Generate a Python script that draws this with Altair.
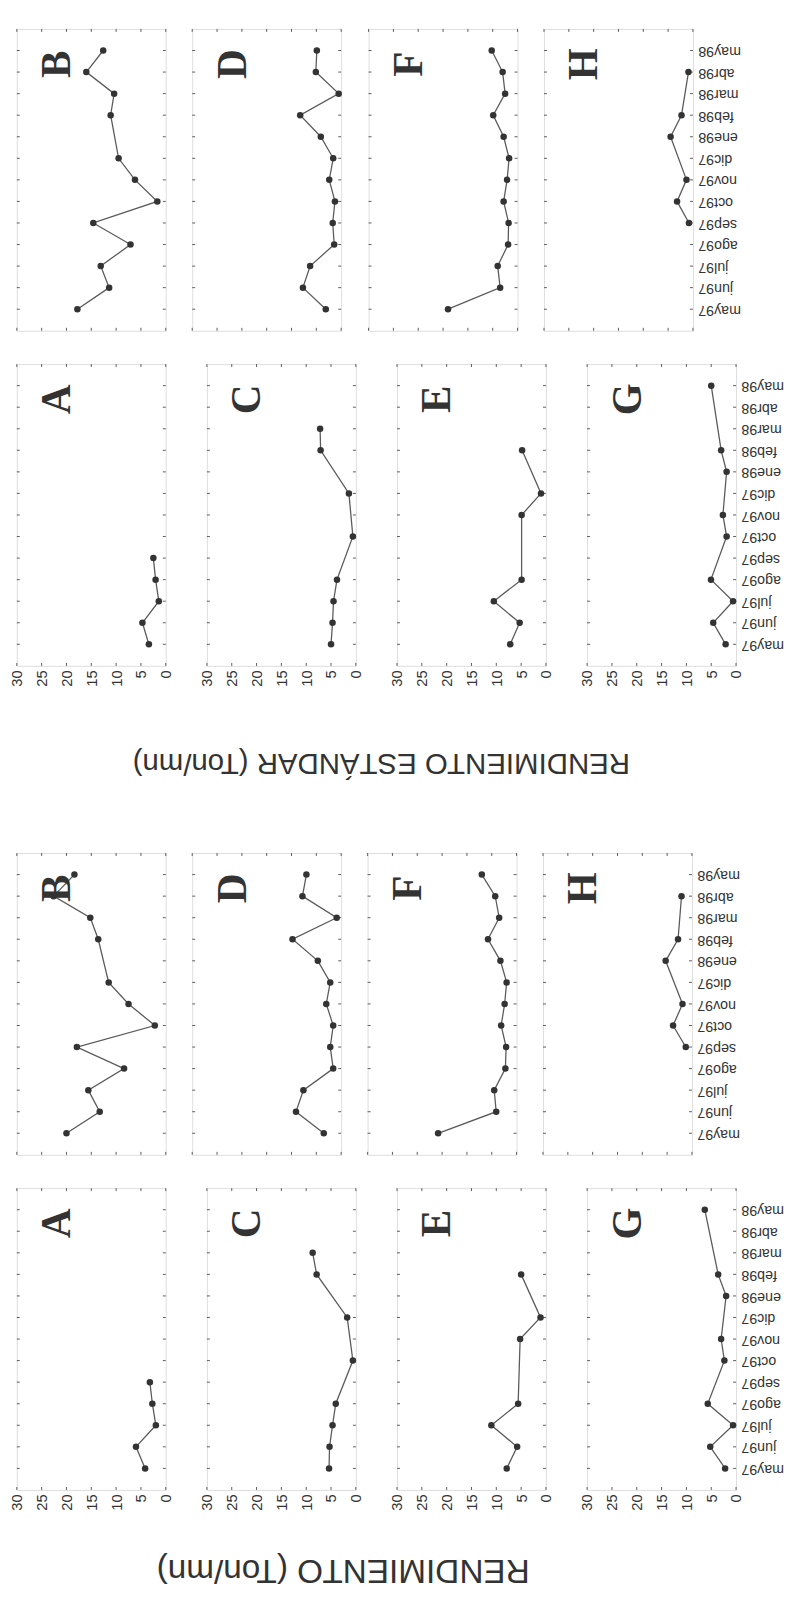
import altair as alt
import pandas as pd

# ---------------- data ----------------
months = ["may97", "jun97", "jul97", "ago97", "sep97", "oct97", "nov97",
          "dic97", "ene98", "feb98", "mar98", "abr98", "may98"]
value_ticks = [0, 5, 10, 15, 20, 25, 30]
letters_upper = ["B", "D", "F", "H"]
letters_lower = ["A", "C", "E", "G"]
title_std = "RENDIMIENTO ESTÁNDAR (Ton/mn)"
title_rend = "RENDIMIENTO (Ton/mn)"

N = None
# RENDIMIENTO ESTÁNDAR (Ton/mn)
std_A = [3.4, 4.7, 1.4, 2.05, 2.5, N, N, N, N, N, N, N, N]
std_B = [17.8, 11.4, 13.1, 7.1, 14.6, 1.7, 6.2, 9.5, N, 11.1, 10.4, 16.0, 12.6]
std_C = [5.0, 4.7, 4.5, 3.8, N, 0.6, N, 1.4, N, 7.1, 7.2, N, N]
std_D = [3.1, 7.7, 6.25, 1.4, 1.7, 1.25, 2.4, 1.6, 4.1, 8.25, 0.5, 5.1, 4.9]
std_E = [7.2, 5.3, 10.5, 4.9, N, N, 4.9, 1.0, N, 4.8, N, N, N]
std_F = [14.0, 3.5, 4.0, 1.9, 1.8, 2.8, 2.1, 1.7, 2.8, 4.9, 2.5, 3.0, 5.2]
std_G = [2.1, 4.6, 0.6, 5.05, N, 1.9, 2.65, N, 1.9, 3.0, N, N, 5.0]
std_H = [N, N, N, N, 0.8, 3.2, 1.3, N, 4.5, 2.3, N, 0.9, N]

# RENDIMIENTO (Ton/mn)
ren_A = [4.15, 6.0, 2.0, 2.7, 3.2, N, N, N, N, N, N, N, N]
ren_B = [20.0, 13.3, 15.6, 8.4, 17.9, 2.2, 7.5, 11.5, N, 13.6, 15.2, 22.6, 18.4]
ren_C = [5.4, 5.3, 4.7, 4.05, N, 0.6, N, 1.75, N, 7.9, 8.7, N, N]
ren_D = [3.5, 9.1, 7.6, 1.6, 2.2, 1.6, 3.0, 2.2, 4.7, 9.8, 0.9, 7.8, 7.0]
ren_E = [7.9, 5.8, 11.0, 5.6, N, N, 5.2, 1.1, N, 5.0, N, N, N]
ren_F = [15.8, 4.1, 4.5, 2.25, 2.1, 3.1, 2.4, 2.0, 3.25, 5.75, 3.5, 4.3, 7.0]
ren_G = [2.2, 5.2, 0.6, 5.7, N, 2.35, 3.0, N, 2.0, 3.6, N, N, 6.3]
ren_H = [N, N, N, N, 1.25, 3.8, 1.9, N, 5.3, 2.8, N, 2.1, N]

std = {"A": std_A, "B": std_B, "C": std_C, "D": std_D,
       "E": std_E, "F": std_F, "G": std_G, "H": std_H}
ren = {"A": ren_A, "B": ren_B, "C": ren_C, "D": ren_D,
       "E": ren_E, "F": ren_F, "G": ren_G, "H": ren_H}

# ---------------- style ----------------
INK = "#333333"
EDGE = "#5a5a5a"
W, H = 152, 308
SANS = "Liberation Sans"

xscale = alt.Scale(domain=[0, 30], reverse=True, nice=False, zero=False)
yscale = alt.Scale(type="point", domain=months[::-1], padding=1)

months_df = pd.DataFrame({"month": months})
ticks_df = pd.DataFrame({"t": value_ticks})


def x_axis(show):
    if not show:
        return None
    return alt.Axis(values=value_ticks, labelAngle=270, labelAlign="right",
                    labelBaseline="middle", ticks=False, domain=False,
                    grid=False, labelPadding=4, labelFontSize=15,
                    labelFont=SANS, labelColor=INK, title=None,
                    labelFlush=False, labelOverlap=False)


def y_axis(kind):
    if kind == "right":
        return alt.Axis(orient="right", labelAngle=180, labelAlign="right",
                        labelBaseline="middle", ticks=False, domain=False,
                        grid=False, labelPadding=5, labelFontSize=14.5,
                        labelFont=SANS, labelColor=INK, title=None,
                        labelOverlap=False)
    return None


def panel(values, letter, show_x, col):
    xa = x_axis(show_x)
    ya = y_axis("right" if col == 3 else None)
    rows = [{"idx": i, "month": m, "v": v}
            for i, (m, v) in enumerate(zip(months, values)) if v is not None]
    df = pd.DataFrame(rows)
    X = lambda f: alt.X(f, scale=xscale, axis=xa)
    Y = lambda f: alt.Y(f, scale=yscale, axis=ya, sort=None)

    left = alt.Chart(months_df).mark_rule(color=EDGE, strokeWidth=1).encode(
        y=Y("month:N"), x=alt.value(0), x2=alt.value(3))
    right = alt.Chart(months_df).mark_rule(color=EDGE, strokeWidth=1).encode(
        y=Y("month:N"), x=alt.value(W - 3), x2=alt.value(W))
    top = alt.Chart(ticks_df).mark_rule(color=EDGE, strokeWidth=1).encode(
        x=X("t:Q"), y=alt.value(0), y2=alt.value(3))
    bottom = alt.Chart(ticks_df).mark_rule(color=EDGE, strokeWidth=1).encode(
        x=X("t:Q"), y=alt.value(H - 3), y2=alt.value(H))
    line = alt.Chart(df).mark_line(color=EDGE, strokeWidth=1.3).encode(
        x=X("v:Q"), y=Y("month:N"), order="idx:Q")
    pts = alt.Chart(df).mark_circle(size=44, color=INK, opacity=1).encode(
        x=X("v:Q"), y=Y("month:N"))
    lab = alt.Chart(pd.DataFrame({"letter": [letter]})).mark_text(
        angle=270, font="Liberation Serif", fontWeight="bold", fontSize=42,
        color=INK, align="center", baseline="middle").encode(
        text="letter:N", x=alt.value(41.5), y=alt.value(36))
    layers = [left, right, top, bottom, line, pts, lab]
    if col == 0:
        # invisible spacer so that rows with and without value labels
        # share the same left bound (keeps the columns aligned)
        layers.append(alt.Chart(months_df).mark_rule(
            strokeOpacity=0, strokeWidth=1).encode(
            x=alt.value(-8), x2=alt.value(-8),
            y=alt.value(10), y2=alt.value(20)))
    return alt.layer(*layers).properties(width=W, height=H)


def title_chart(text, cx, cy, size, h):
    return alt.Chart(pd.DataFrame({"t": [text]})).mark_text(
        angle=180, font=SANS, fontSize=size, color=INK,
        align="center", baseline="middle").encode(
        text="t:N", x=alt.value(cx), y=alt.value(cy)).properties(
        width=660, height=h,
        view=alt.ViewBackground(stroke="transparent"))


def group(data, title, cx, cy, size, h):
    upper = alt.hconcat(*[panel(data[l], l, False, i)
                          for i, l in enumerate(letters_upper)], spacing=25)
    lower = alt.hconcat(*[panel(data[l], l, True, i)
                          for i, l in enumerate(letters_lower)], spacing=25)
    return alt.vconcat(upper, lower, title_chart(title, cx, cy, size, h),
                       spacing=32)


g_std = group(std, title_std, 372, 44, 30, 64)
g_ren = group(ren, title_rend, 333, 26, 34, 44)

chart = alt.vconcat(g_std, g_ren, spacing=70).properties(
    padding={"left": 0, "top": 4, "right": 2, "bottom": 0}
).configure_view(stroke=EDGE, strokeWidth=1.4).configure(background="white")

chart.save("out.html", embed_options={"renderer": "svg", "actions": False})
